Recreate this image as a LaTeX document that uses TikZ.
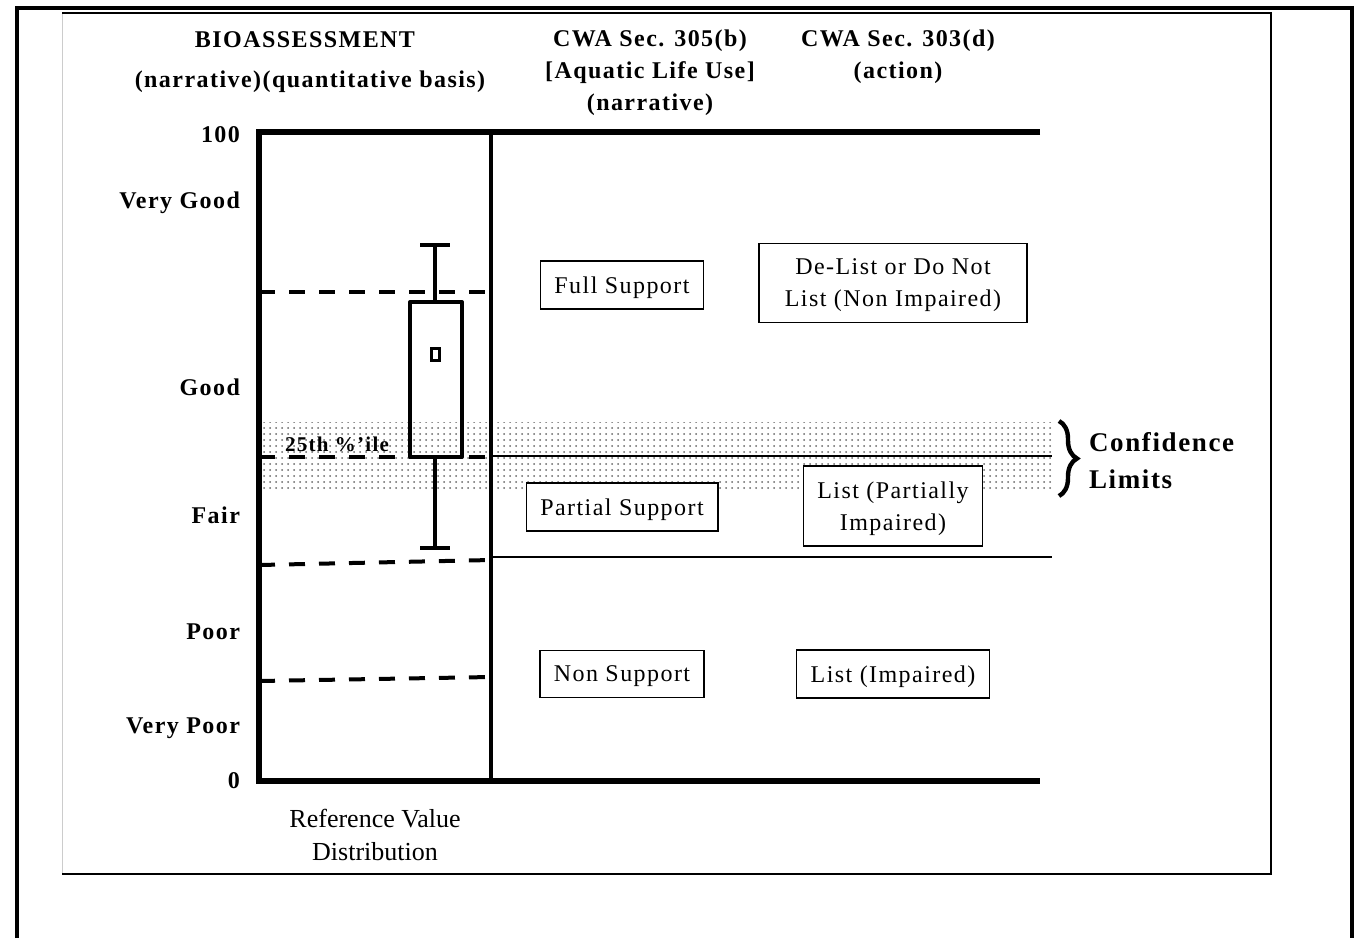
\documentclass[tikz,border=0pt]{standalone}
\usepackage{fontspec}
\setmainfont{Liberation Serif}
\newfontfamily\trackfont{Liberation Serif}[LetterSpace=6]
\usetikzlibrary{patterns,decorations.pathreplacing}

\tikzset{
 thickrule/.style={line width=2.8pt},
 cutline/.style={line width=2pt,dash pattern=on 8pt off 7pt},
 thinrule/.style={line width=.9pt},
 whisker/.style={line width=2pt,line join=round},
 hdtext/.style={font=\trackfont\bfseries\fontsize{12}{16}\selectfont,align=center},
 scorelabel/.style={font=\trackfont\bfseries\fontsize{12}{14}\selectfont,anchor=base east},
 actbox/.style={draw,fill=white,line width=.8pt,inner xsep=7pt,inner ysep=7.8pt,text depth=0pt,align=center,font=\trackfont\fontsize{12}{16}\selectfont},
}

\begin{document}
\begin{tikzpicture}[x=.5pt,y=-.5pt]
\useasboundingbox (0,0) rectangle (1358,938);
% frames
\draw[line width=2pt] (17,938) -- (17,8) -- (1352,8) -- (1352,938);
\draw[black!20,line width=.5pt] (62,13) -- (62,874);
\draw[line width=1pt] (62,13) -- (1271,13) -- (1271,874) -- (62,874);
% confidence band
\fill[pattern=dots,pattern color=black!60] (261,422) rectangle (1052,492);
% class limits
\foreach \ya/\yb in {292/292,457/457,565/560,681/677}
 \draw[cutline] (259,\ya) -- (491,\yb);
\draw[thinrule] (491,456) -- (1052,456);
\draw[thinrule] (491,557) -- (1052,557);
% chart frame
\draw[thickrule] (1040,132) -| (259,781) -- (1040,781);
\draw[line width=2pt] (491,132) -- (491,781);
% reference distribution
\draw[whisker] (420,245) -- (450,245) (435,245) -- (435,302);
\draw[whisker] (410,302) rectangle (462,457);
\draw[whisker] (435,457) -- (435,548) (420,548) -- (450,548);
\draw[line width=1.5pt] (431.5,348) rectangle (439.5,360);
\node[font=\trackfont\bfseries\fontsize{10.5}{12}\selectfont] (pct) at (337,444) {25th \%’ile};
% headers
\node[hdtext] (bio) at (305,40) {BIOASSESSMENT};
\node[hdtext] (bioq) at (310,82) {(narrative)(quantitative basis)};
\node[hdtext] (use) at (650,73) {CWA Sec. 305(b)\\{[}Aquatic Life Use{]}\\(narrative)};
\node[hdtext] (act) at (898,57) {CWA Sec. 303(d)\\(action)};
% score classes
\foreach \yy/\lbl [count=\k] in {142.5/100,208.5/Very Good,395.5/Good,523.5/Fair,639.5/Poor,733.5/Very Poor,788/0}
 \node[scorelabel] (cls\k) at (247,\yy) {\lbl};
% use support and listing
\node[actbox] (fullsup) at (622,285) {Full Support};
\node[actbox,minimum width=134pt] (delist) at (893,283) {De-List or Do Not\\List (Non Impaired)};
\node[actbox] (partsup) at (622,507) {Partial Support};
\node[actbox] (listpart) at (893,506) {List (Partially\\Impaired)};
\node[actbox] (nonsup) at (622,674) {Non Support};
\node[actbox] (listimp) at (893,674) {List (Impaired)};
% confidence limits
\draw[line width=2.2pt,decorate,decoration={brace,amplitude=9pt}] (1059,421) -- (1059,496);
\node[font=\trackfont\bfseries\fontsize{13.5}{18.5}\selectfont,align=left,anchor=west] (conf) at (1082,461) {Confidence\\Limits};
\node[font=\fontsize{13}{16.5}\selectfont,align=center] (refdist) at (375,835) {Reference Value\\Distribution};
\end{tikzpicture}
\end{document}
